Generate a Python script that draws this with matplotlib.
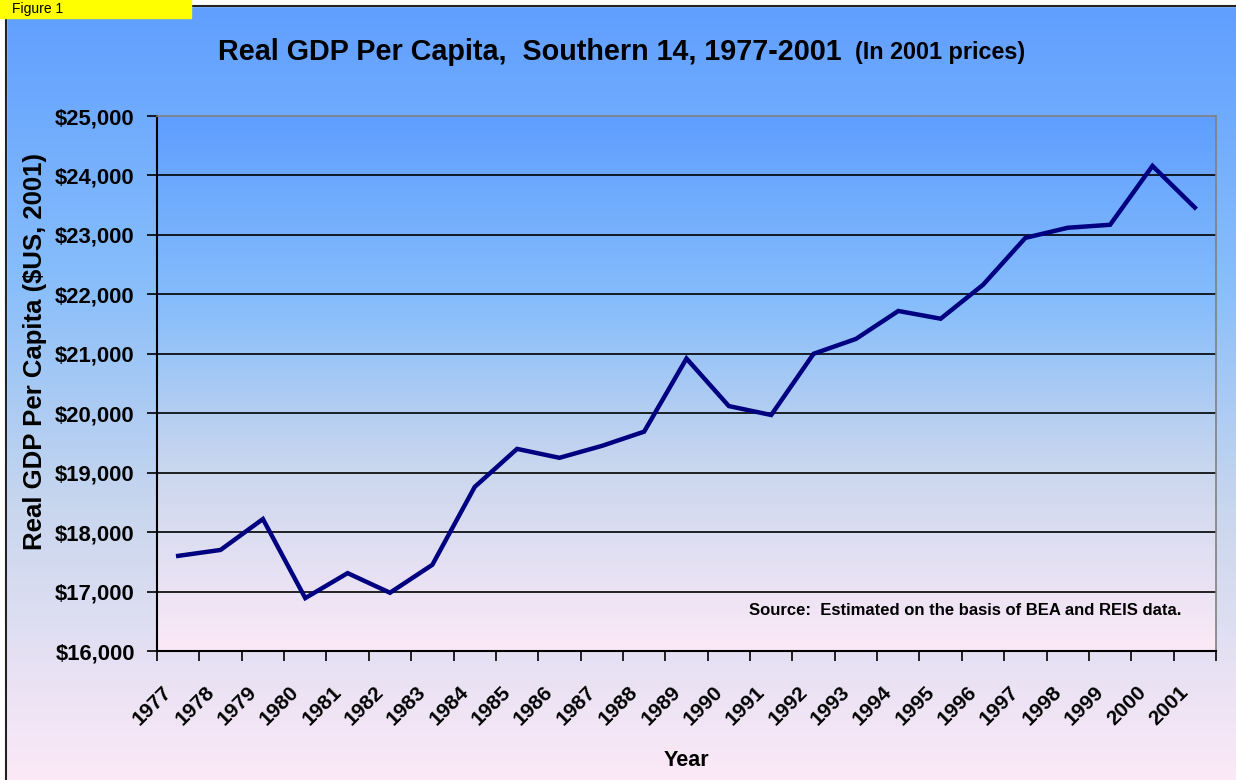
import numpy as np
import matplotlib
matplotlib.use("Agg")
import matplotlib.pyplot as plt
from matplotlib.colors import LinearSegmentedColormap
from matplotlib.patches import Rectangle
from matplotlib.transforms import ScaledTranslation

plt.rcParams['font.family'] = ['Liberation Sans', 'DejaVu Sans']
plt.rcParams['font.weight'] = 'bold'
plt.rcParams['axes.labelweight'] = 'bold'

years = [str(y) for y in range(1977, 2002)]
gdp = [17600, 17700, 18220, 16890, 17310, 16980, 17450, 18760, 19400, 19250,
       19450, 19690, 20920, 20120, 19970, 21000, 21250, 21720, 21590, 22160,
       22950, 23120, 23170, 24160, 23460]
yticks = list(range(16000, 25001, 1000))

# blue -> pink background gradient
grad = LinearSegmentedColormap.from_list(
    "bg", [(0.0, "#5f9eff"), (0.35, "#86bdfb"), (0.65, "#c8d6ee"), (1.0, "#fce9f7")])

W, H = 1236, 780
fig = plt.figure(figsize=(W / 100, H / 100), dpi=100)

bg = fig.add_axes([0, 0, 1, 1], zorder=0)
bg.imshow(np.linspace(0, 1, 256).reshape(-1, 1), aspect='auto', cmap=grad,
          extent=[0, 1, 0, 1], origin='upper')
bg.set_xlim(0, 1)
bg.set_ylim(0, 1)
bg.axis('off')
# white margin on left/top with black frame
bg.add_patch(Rectangle((0, 0), 6 / W, 1, color='white', zorder=2))
bg.add_patch(Rectangle((0, 1 - 6 / H), 1, 6 / H, color='white', zorder=2))
bg.plot([6 / W, 6 / W], [0, 1 - 6 / H], color='#222222', lw=1.5, zorder=3)
bg.plot([6 / W, 1], [1 - 6 / H, 1 - 6 / H], color='#222222', lw=1.5, zorder=3)
# yellow label box
bg.add_patch(Rectangle((0, 1 - 18 / H), 191 / W, 18 / H, color='#ffff00', zorder=4))
bg.text(12 / W, 1 - 9.5 / H, "Figure 1", fontsize=10, fontweight='normal',
        ha='left', va='center', zorder=5)

ax = fig.add_axes([157 / W, (H - 651) / H, 1059 / W, 535 / H], zorder=1)
ax.imshow(np.linspace(0, 1, 256).reshape(-1, 1), aspect='auto', cmap=grad,
          extent=[-0.5, 24.5, 16000, 25000], origin='upper', zorder=0)

x = np.arange(len(years))
ax.plot(x, gdp, color='#000080', lw=3.2, zorder=3, solid_joinstyle='miter')

ax.set_xlim(-0.5, 24.5)
ax.set_ylim(16000, 25000)
ax.set_yticks(yticks)
ax.set_yticklabels(["${:,}".format(v) for v in yticks], fontsize=15.8)
for v in yticks[1:-1]:
    ax.axhline(v, color='black', lw=1.2, zorder=2)

ax.set_xticks(np.arange(-0.5, 25, 1))
ax.set_xticklabels([])
ax.set_xticks(x, minor=True)
ax.set_xticklabels(years, minor=True, rotation=45, ha='right', va='top',
                   rotation_mode='anchor', fontsize=15)
ax.tick_params(axis='x', which='minor', length=0, pad=22.5)
ax.tick_params(axis='x', which='major', length=7, width=1.2, direction='out')
ax.tick_params(axis='y', length=7, width=1.2, direction='out', pad=9)
shift = ScaledTranslation(-0.16, 0, fig.dpi_scale_trans)
for lab in ax.get_xticklabels(minor=True):
    lab.set_transform(lab.get_transform() + shift)

for s in ['top', 'right']:
    ax.spines[s].set_color('#808080')
    ax.spines[s].set_linewidth(1.2)
for s in ['left', 'bottom']:
    ax.spines[s].set_color('black')
    ax.spines[s].set_linewidth(1.5)

fig.text(35 / W, 1 - 352 / H, "Real GDP Per Capita ($US, 2001)", rotation=90,
         fontsize=18.5, ha='center', va='center')
fig.text(686.5 / W, 1 - 760 / H, "Year", fontsize=15.5, ha='center', va='center')
ax.text(0.967, 0.075, "Source:  Estimated on the basis of BEA and REIS data.",
        transform=ax.transAxes, ha='right', va='center', fontsize=12, zorder=4)

fig.text(218 / W, 1 - 52 / H, "Real GDP Per Capita,  Southern 14, 1977-2001",
         fontsize=20.7, ha='left', va='center')
fig.text(855 / W, 1 - 53 / H, "(In 2001 prices)", fontsize=16.8, ha='left', va='center')

fig.savefig("out.png", dpi=100)
